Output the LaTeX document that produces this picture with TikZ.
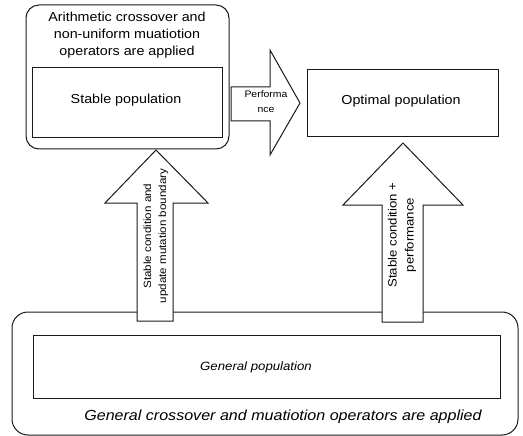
\documentclass[tikz,border=0pt]{standalone}
\usepackage{fontspec}
\setmainfont{Liberation Sans}[FakeStretch=1.1]
\begin{document}
\begin{tikzpicture}[x=1pt,y=-1pt,line width=1pt,
  outerbox/.style={draw=black!90,rounded corners=13pt,inner sep=0pt},
  innerbox/.style={draw=black!90,inner sep=0pt},
  blockarrow/.style={draw=black!90,fill=white,line join=miter},
  lbl/.style={inner sep=0pt,align=center,text=black}]
\useasboundingbox (0,0) rectangle (523,436);
% top rounded box
\node[outerbox,minimum width=203pt,minimum height=144pt] (topbox) at (127.5,77) {};
\node[lbl,font=\fontsize{13}{17}\selectfont] (toptext) at (127,35)
  {Arithmetic crossover and\\non-uniform muatiotion\\operators are applied};
\node[innerbox,minimum width=190pt,minimum height=70pt] (stable) at (127,103) {};
\node[lbl,font=\fontsize{13}{16}\selectfont] (stabletext) at (126,100) {Stable population};
% optimal box
\node[innerbox,minimum width=191pt,minimum height=67pt] (optimal) at (402.5,103.5) {};
\node[lbl,font=\fontsize{13}{16}\selectfont] (optimaltext) at (401,101) {Optimal population};
% bottom rounded box
\node[outerbox,rounded corners=16pt,minimum width=506pt,minimum height=123pt] (botbox) at (265,373.5) {};
\node[innerbox,minimum width=467pt,minimum height=63pt] (general) at (266.5,366.5) {};
\node[lbl,font=\fontsize{12}{15}\selectfont\itshape] (generaltext) at (256,367) {General population};
\node[lbl,font=\fontsize{14.6}{16}\selectfont\itshape] (bottext) at (283,417) {General crossover and muatiotion operators are applied};
% performance arrow
\draw[blockarrow] (231,87) -- (270,87) -- (270,50) -- (300,103) -- (270,155) -- (270,121) -- (231,121) -- cycle;
\node[lbl,font=\fontsize{9.5}{15}\selectfont] (perftext) at (266,102) {Performa\\nce};
% left up arrow
\draw[blockarrow] (137,321) -- (137,203) -- (105,203) -- (156,150) -- (208,203) -- (173,203) -- (173,321) -- cycle;
\node[lbl,rotate=90,font=\fontsize{10.5}{15}\selectfont] (lefttext) at (156,236)
  {Stable condition and\\update mutation boundary};
% right up arrow
\draw[blockarrow] (382,322) -- (382,205) -- (343,205) -- (403,143) -- (463,205) -- (423,205) -- (423,322) -- cycle;
\node[lbl,rotate=90,font=\fontsize{12}{17}\selectfont] (righttext) at (402,235)
  {Stable condition +\\performance};
\end{tikzpicture}
\end{document}
